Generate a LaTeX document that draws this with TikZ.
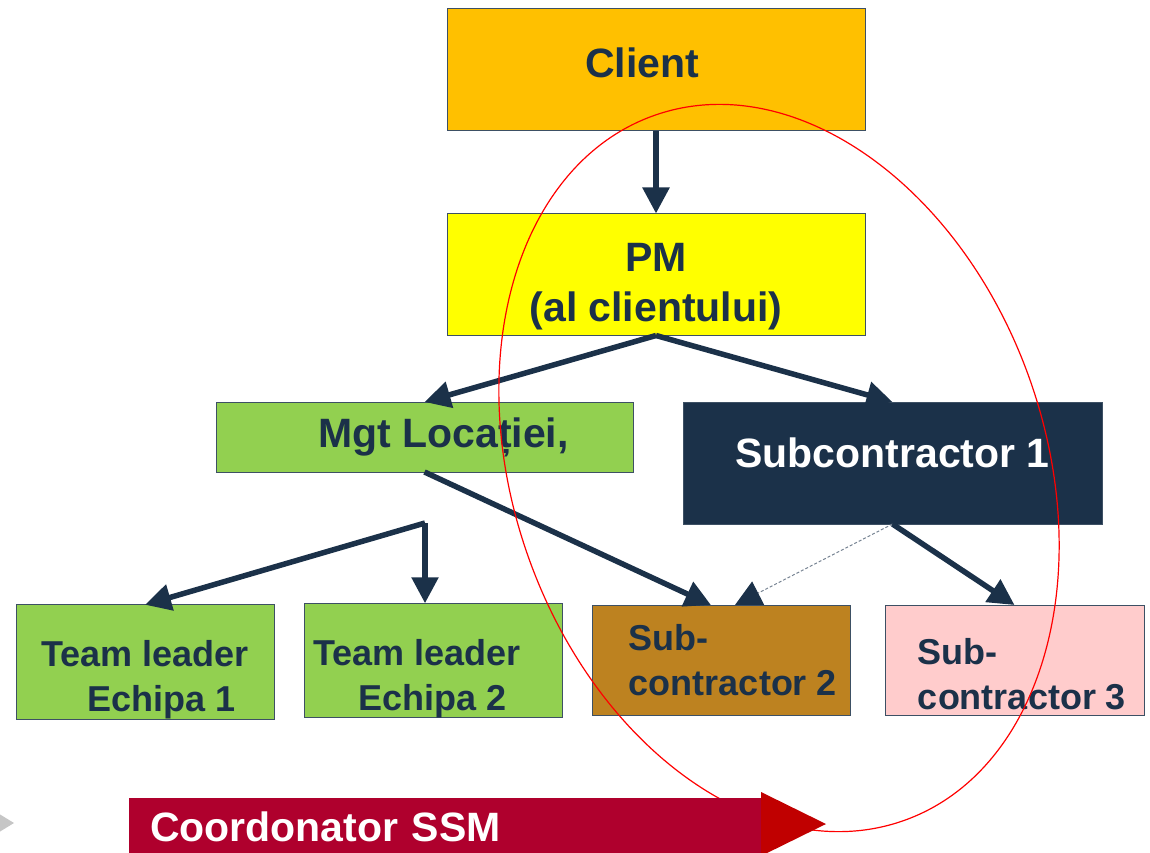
\documentclass[tikz,border=0pt]{standalone}
\usepackage{fontspec}
\setmainfont{Liberation Sans}
\usetikzlibrary{arrows.meta}
\definecolor{navy}{HTML}{1B3149}
\definecolor{clientfill}{HTML}{FFC000}
\definecolor{pmfill}{HTML}{FFFF00}
\definecolor{teamgreen}{HTML}{92D050}
\definecolor{subbrown}{HTML}{BD8220}
\definecolor{subpink}{HTML}{FFCCCC}
\definecolor{ssmred}{HTML}{AF002D}
\definecolor{headred}{HTML}{C00000}
\begin{document}
\begin{tikzpicture}[x=1pt,y=-1pt,inner sep=0pt,outer sep=0pt,
box/.style={draw=navy!85,line width=1pt,text=navy,align=center},
bigtext/.style={font=\bfseries\fontsize{41}{50}\selectfont},
smalltext/.style={font=\bfseries\fontsize{36}{45}\selectfont,align=left},
topbox/.style={box,bigtext,minimum width=418pt,minimum height=122pt},
lowbox/.style={box,smalltext,minimum width=258pt,minimum height=110pt},
link/.style={draw=navy,line width=5.5pt,-{Triangle[length=26pt,width=26pt]}},
dotlink/.style={draw=navy!60,line width=1pt,dash pattern=on 3pt off 2pt,-{Triangle[length=26pt,width=26pt,color=navy]}},
ssmbar/.style={fill=ssmred,text=white,bigtext,align=left,text width=590pt,inner xsep=21pt,minimum height=58pt}]
\useasboundingbox (0,0) rectangle (1150,853);
\clip (0,0) rectangle (1150,853);
\draw (656,70) node[topbox,fill=clientfill] (client) {Client\rule[-14pt]{0pt}{14pt}\hspace*{28pt}};
\draw (656,274.5) node[topbox,fill=pmfill] (pm) {\rule{0pt}{53pt}PM\\(al clientului)};
\draw (424.5,437) node[box,bigtext,fill=teamgreen,minimum width=417pt,minimum height=70pt] (mgt) {\hspace*{38pt}Mgt Locației,};
\draw (892.5,463) node[topbox,fill=navy,text=white,minimum width=419pt] (sub1) {Subcontractor 1\rule[-20pt]{0pt}{20pt}};
\draw (145,662) node[lowbox,fill=teamgreen] (tl1) {\rule{0pt}{62pt}Team leader\\\hspace*{46pt}Echipa 1};
\draw (433,660.5) node[lowbox,fill=teamgreen] (tl2) {\rule{0pt}{62pt}Team leader\hspace*{32pt}\\\hspace*{45pt}Echipa 2};
\draw (721,660) node[lowbox,fill=subbrown] (sub2) {\hspace*{24pt}Sub-\\\hspace*{24pt}contractor 2};
\draw (1014.5,660) node[lowbox,fill=subpink,minimum width=259pt] (sub3) {\rule{0pt}{55pt}\hspace*{15pt}Sub-\\\hspace*{15pt}contractor 3};
\coordinate (fork) at (425,523);
\draw[link] (client) -- (pm);
\draw[link] (pm.south) -- (mgt.north);
\draw[link] (pm.south) -- (sub1.north);
\draw[link] (mgt.south) -- ([xshift=-10pt]sub2.north);
\draw[dotlink] (sub1.south) -- ([xshift=14pt]sub2.north);
\draw[link] (sub1.south) -- (sub3.north);
\draw[link] (fork) -- (tl1.north);
\draw[link] (fork) -- (fork |- tl2.north);
\draw[red,line width=1.2pt,rotate around={19.5:(779,468)}] (779,468) ellipse [x radius=266, y radius=374];
\fill[gray!45] (-4,812) -- (14,823) -- (-4,834) -- cycle;
\draw (129,798) node[ssmbar,anchor=north west] (ssm) {Coordonator SSM};
\fill[headred] ([yshift=6pt]ssm.north east) -- ++(65,32) -- ++(-65,32) -- cycle;
\end{tikzpicture}
\end{document}
